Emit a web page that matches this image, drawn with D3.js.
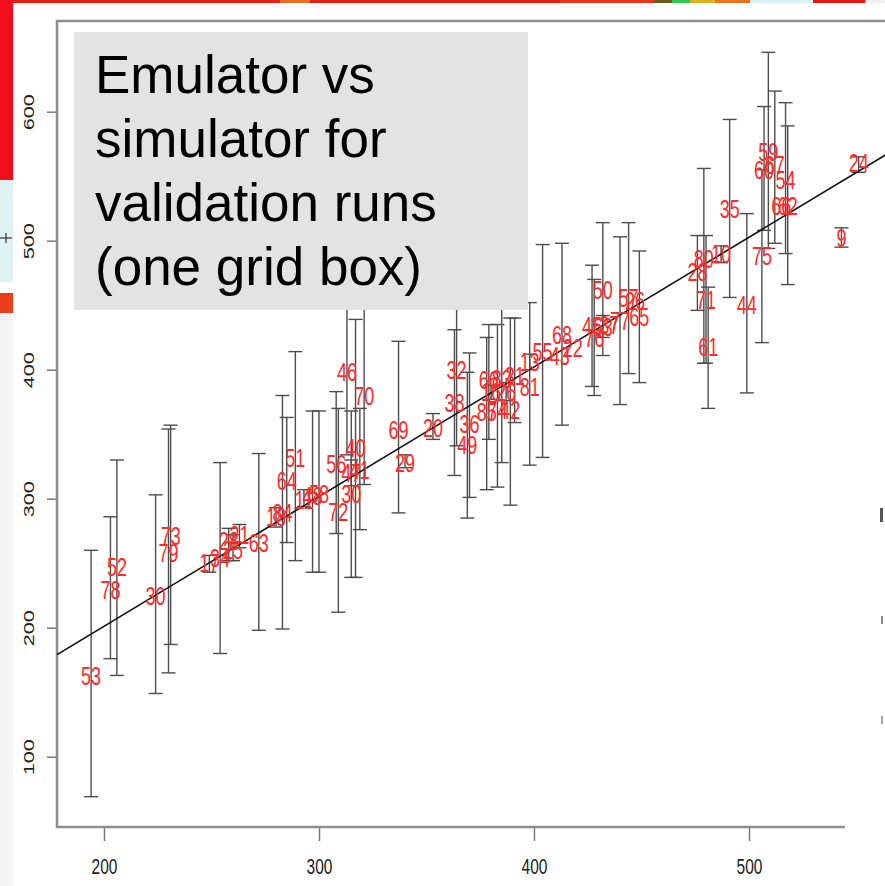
<!DOCTYPE html>
<html>
<head>
<meta charset="utf-8">
<script src="https://cdn.jsdelivr.net/npm/d3@7"></script>
<style>
  html, body { margin: 0; padding: 0; background: #fff; overflow: hidden; }
  svg { display: block; }
</style>
</head>
<body>
<svg id="chart" width="885" height="886"></svg>
<script>
// Validation runs: simulator output (x) against emulator mean (y) with emulator intervals
const runIds    = ["53","52","78","30","73","79","17","34","28","21","25","63","18","84","64","51","11","48","58","56",
                   "72","30","40","46","70","47","41","69","29","20","32","38","36","49","85","74","42","66","83","31",
                   "16","26","81","13","55","68","43","22","45","76","63","37","77","50","57","26","65","28","80","71",
                   "61","10","35","44","75","60","59","67","54","62","66","9","24"];
const simulator = [194,206,203,224,231,230,249,254,258,263,260,272,280,283,285,289,293,297,300,308,
                   309,315,317,313,321,315,319,337,340,353,364,363,370,369,378,383,389,379,385,391,
                   380,387,398,398,404,413,412,418,427,428,432,435,440,432,444,447,449,476,479,480,
                   481,487,491,499,506,507,509,512,517,518,515,543,551];
const emulator  = [163,247,229,225,271,258,250,254,267,272,260,266,286,289,314,332,299,302,304,327,
                   290,304,339,398,380,320,322,353,328,355,400,374,358,342,367,369,369,392,393,395,
                   383,383,387,406,414,427,411,417,434,425,433,435,438,462,456,453,441,476,486,454,
                   418,490,525,450,488,555,569,559,547,527,527,502,560];
const emuLower  = [69,163,176,149,187,165,243,180,252,262,252,198,278,199,266,252,294,243,243,273,
                   212,239,239,334,311,310,276,289,324,346,341,318,301,285,307,309,295,346,328,359,
                   377,376,326,400,332,357,null,null,387,380,425,null,373,411,397,null,390,446,405,405,
                   370,483,456,382,421,508,494,498,490,466,null,495,553];
const emuUpper  = [260,330,286,303,357,354,256,328,277,280,272,335,293,380,363,414,307,368,368,383,
                   370,368,439,462,450,330,370,422,334,366,485,431,413,398,425,435,440,435,454,440,
                   388,390,452,412,497,498,null,null,481,470,442,null,503,514,514,null,492,504,556,504,
                   464,496,594,521,555,604,646,616,607,589,null,510,565];

const xTicks = [200, 300, 400, 500];
const yTicks = [100, 200, 300, 400, 500, 600];

// Reference line drawn across the panel
const fitX = [178, 564];
const fitY = [179, 567];

const titleLines = ["Emulator vs", "simulator for", "validation runs", "(one grid box)"];

const svg = d3.select("#chart");

// ---- slide background fragments around the plot ----
const bg = svg.append("g");
bg.append("rect").attr("x", 0).attr("y", 0).attr("width", 13).attr("height", 180).attr("fill", "#f20f1b");
bg.append("rect").attr("x", 0).attr("y", 180).attr("width", 13).attr("height", 102).attr("fill", "#e0f3f3");
bg.append("line").attr("x1", 0).attr("x2", 12).attr("y1", 238).attr("y2", 238).attr("stroke", "#333").attr("stroke-width", 1.2);
bg.append("line").attr("x1", 6).attr("x2", 6).attr("y1", 233).attr("y2", 243).attr("stroke", "#333").attr("stroke-width", 1.2);
bg.append("rect").attr("x", 0).attr("y", 293).attr("width", 13).attr("height", 20).attr("fill", "#ea3e1c");
bg.append("rect").attr("x", 0).attr("y", 313).attr("width", 13).attr("height", 573).attr("fill", "#f4f4f4");
const topStrip = [
  [13, 280, "#ee1c16"], [280, 310, "#f06a20"], [310, 560, "#ee1c16"], [560, 653, "#f0301a"],
  [653, 672, "#6a5a20"], [672, 690, "#30c850"], [690, 715, "#e0b020"], [715, 750, "#f07020"],
  [750, 813, "#dff0f0"], [813, 865, "#ee1414"], [865, 885, "#f0f0f0"]
];
topStrip.forEach(([a, b, c]) => bg.append("rect").attr("x", a).attr("y", 0).attr("width", b - a).attr("height", 3).attr("fill", c));
bg.append("rect").attr("x", 880).attr("y", 508).attr("width", 3).attr("height", 14).attr("fill", "#555");
bg.append("rect").attr("x", 881).attr("y", 616).attr("width", 2).attr("height", 8).attr("fill", "#888");
bg.append("rect").attr("x", 881).attr("y", 716).attr("width", 2).attr("height", 8).attr("fill", "#aaa");

// ---- scales ----
const x = d3.scaleLinear().domain([200, 500]).range([104, 749]);
const y = d3.scaleLinear().domain([100, 600]).range([756.7, 111.7]);

const panel = { left: 57, top: 21, right: 885, bottom: 827 };

svg.append("clipPath").attr("id", "panel-clip")
  .append("rect")
  .attr("x", panel.left).attr("y", panel.top)
  .attr("width", panel.right - panel.left).attr("height", panel.bottom - panel.top);

// ---- axes ----
const axisColor = "#7a7a7a";
const xAxis = svg.append("g")
  .attr("transform", `translate(0,${panel.bottom})`)
  .call(d3.axisBottom(x).tickValues(xTicks).tickSize(14).tickSizeOuter(0).tickFormat(d3.format("d")));
xAxis.select(".domain").remove();
xAxis.selectAll(".tick line").attr("stroke", axisColor).attr("stroke-width", 1.5);
xAxis.selectAll(".tick text")
  .attr("y", 0).attr("dy", "0.36em")
  .attr("transform", "translate(0,39) scale(1,1.4)")
  .attr("font-family", "'Liberation Sans', Arial, sans-serif")
  .attr("font-size", 15.5).attr("fill", "#222");

const yAxis = svg.append("g")
  .attr("transform", `translate(${panel.left},0)`)
  .call(d3.axisLeft(y).tickValues(yTicks).tickSize(10).tickSizeOuter(0).tickFormat(d3.format("d")));
yAxis.select(".domain").remove();
yAxis.selectAll(".tick line").attr("stroke", axisColor).attr("stroke-width", 1.5);
yAxis.selectAll(".tick text")
  .attr("x", 0).attr("y", 0).attr("dy", "0.36em")
  .attr("text-anchor", "middle")
  .attr("transform", "translate(-29,0) rotate(-90) scale(1.4,1)")
  .attr("font-family", "'Liberation Sans', Arial, sans-serif")
  .attr("font-size", 15.5).attr("fill", "#222");

// panel frame
const frame = svg.append("g").attr("stroke", "#8e8e8e").attr("stroke-width", 2.5).attr("fill", "none");
frame.append("line").attr("x1", panel.left).attr("x2", panel.left).attr("y1", panel.top - 1).attr("y2", panel.bottom + 1);
frame.append("line").attr("x1", panel.left).attr("x2", panel.right).attr("y1", panel.top).attr("y2", panel.top);
frame.append("line").attr("x1", panel.left).attr("x2", 845).attr("y1", panel.bottom).attr("y2", panel.bottom);

// ---- data layer ----
const runs = runIds.map((id, i) => ({
  id, sim: simulator[i], emu: emulator[i], lo: emuLower[i], hi: emuUpper[i]
}));

const plot = svg.append("g").attr("clip-path", "url(#panel-clip)");

// error bars
const bars = plot.append("g").attr("stroke", "#4d4d4d").attr("stroke-width", 1.4).attr("fill", "none");
const withBars = runs.filter(d => d.lo != null && d.hi != null);
bars.selectAll("line.stem").data(withBars).join("line").attr("class", "stem")
  .attr("x1", d => x(d.sim)).attr("x2", d => x(d.sim))
  .attr("y1", d => y(d.lo)).attr("y2", d => y(d.hi));
bars.selectAll("line.cap-hi").data(withBars).join("line").attr("class", "cap-hi")
  .attr("x1", d => x(d.sim) - 7).attr("x2", d => x(d.sim) + 7)
  .attr("y1", d => y(d.hi)).attr("y2", d => y(d.hi));
bars.selectAll("line.cap-lo").data(withBars).join("line").attr("class", "cap-lo")
  .attr("x1", d => x(d.sim) - 7).attr("x2", d => x(d.sim) + 7)
  .attr("y1", d => y(d.lo)).attr("y2", d => y(d.lo));

// reference line
plot.append("path")
  .datum(fitX.map((v, i) => [v, fitY[i]]))
  .attr("d", d3.line().x(d => x(d[0])).y(d => y(d[1])))
  .attr("stroke", "#111").attr("stroke-width", 1.6).attr("fill", "none");

// run labels at each point
plot.append("g").selectAll("text").data(runs).join("text")
  .attr("transform", d => `translate(${x(d.sim)},${y(d.emu)}) scale(1,1.4)`)
  .attr("text-anchor", "middle").attr("dy", "0.36em")
  .attr("font-family", "'Liberation Sans', Arial, sans-serif")
  .attr("font-size", 18).attr("fill", "#ff2a2a")
  .text(d => d.id);

// ---- title box ----
const title = svg.append("g");
title.append("rect").attr("x", 74).attr("y", 32).attr("width", 454).attr("height", 278).attr("fill", "#e3e3e3");
title.selectAll("text").data(titleLines).join("text")
  .attr("x", 95).attr("y", (d, i) => 93 + i * 64)
  .attr("font-family", "'Liberation Sans', Arial, sans-serif")
  .attr("font-size", 53).attr("fill", "#000")
  .text(d => d);
</script>
</body>
</html>
